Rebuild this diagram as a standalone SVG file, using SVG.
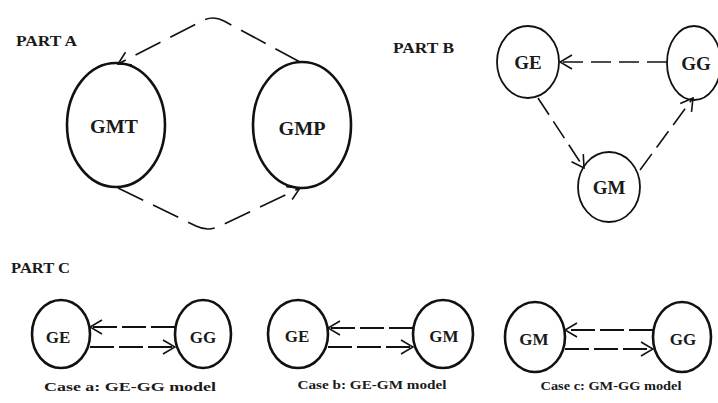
<svg xmlns="http://www.w3.org/2000/svg" width="718" height="403" viewBox="0 0 718 403">
<style>
.bg{fill:#fff}
.nodeA{fill:none;stroke:#111;stroke-width:2.6}
.nodeB{fill:none;stroke:#111;stroke-width:1.8}
.nodeC{fill:none;stroke:#111;stroke-width:2.6}
.lbl{font-family:"Liberation Serif","Times New Roman",serif;font-weight:bold;fill:#1a1a1a;text-anchor:middle}
.title{font-family:"Liberation Serif","Times New Roman",serif;font-weight:bold;fill:#1a1a1a;font-size:14px}
.cap{font-family:"Liberation Serif","Times New Roman",serif;font-weight:bold;fill:#1a1a1a;font-size:12px;text-anchor:middle}
.edgeA{fill:none;stroke:#111;stroke-width:1.6;stroke-dasharray:28 11}
.edgeB{fill:none;stroke:#111;stroke-width:1.6;stroke-dasharray:20 8}
.edgeC{fill:none;stroke:#111;stroke-width:1.8;stroke-dasharray:24 5}
</style>
<defs>
<marker id="arr" viewBox="0 0 14 16" refX="13" refY="8" markerWidth="14" markerHeight="16" markerUnits="userSpaceOnUse" orient="auto">
<path d="M1,1 L13,8 L1,15" fill="none" stroke="#111" stroke-width="1.6"/>
</marker>
</defs>
<rect class="bg" x="0" y="0" width="718" height="403"/>

<text class="title" x="16" y="46" textLength="61" lengthAdjust="spacingAndGlyphs">PART A</text>
<text class="title" x="393" y="53" textLength="61" lengthAdjust="spacingAndGlyphs">PART B</text>
<text class="title" x="11" y="273" textLength="59" lengthAdjust="spacingAndGlyphs">PART C</text>

<g id="connectors">
<path class="edgeA" d="M300,62 L224,21 Q213,15 202,21 L118,64" marker-end="url(#arr)"/>
<path class="edgeA" d="M118,188 L196,226 Q208,232 220,226 L300,188" marker-end="url(#arr)"/>
<path class="edgeB" d="M667,62 L560,62" marker-end="url(#arr)"/>
<path class="edgeB" d="M538,98 L584,168" marker-end="url(#arr)"/>
<path class="edgeB" d="M640,170 L693,98" marker-end="url(#arr)"/>
<path class="edgeC" d="M175,327 L90,327" marker-end="url(#arr)"/>
<path class="edgeC" d="M90,347 L175,347" marker-end="url(#arr)"/>
<path class="edgeC" d="M413,328 L328,328" marker-end="url(#arr)"/>
<path class="edgeC" d="M328,347 L413,347" marker-end="url(#arr)"/>
<path class="edgeC" d="M653,330 L565,330" marker-end="url(#arr)"/>
<path class="edgeC" d="M565,349 L653,349" marker-end="url(#arr)"/>
</g>

<g id="GMT"><ellipse class="nodeA" cx="116" cy="125" rx="49" ry="62"/><text class="lbl" x="114" y="133" font-size="19" textLength="48" lengthAdjust="spacingAndGlyphs">GMT</text></g>
<g id="GMP"><ellipse class="nodeA" cx="302" cy="125" rx="49" ry="63"/><text class="lbl" x="302" y="135" font-size="19" textLength="47" lengthAdjust="spacingAndGlyphs">GMP</text></g>

<g id="B_GE"><ellipse class="nodeB" cx="528" cy="62" rx="31" ry="36"/><text class="lbl" x="528" y="69" font-size="19">GE</text></g>
<g id="B_GG"><ellipse class="nodeB" cx="694" cy="63" rx="27" ry="37"/><text class="lbl" x="696" y="70" font-size="19">GG</text></g>
<g id="B_GM"><ellipse class="nodeB" cx="609" cy="187" rx="31" ry="35"/><text class="lbl" x="609" y="194" font-size="19">GM</text></g>

<g id="Ca_GE"><ellipse class="nodeC" cx="61" cy="334" rx="29" ry="34"/><text class="lbl" x="58" y="343" font-size="17">GE</text></g>
<g id="Ca_GG"><ellipse class="nodeC" cx="203" cy="334" rx="28" ry="34"/><text class="lbl" x="203" y="343" font-size="17">GG</text></g>
<g id="Cb_GE"><ellipse class="nodeC" cx="298" cy="334" rx="30" ry="34"/><text class="lbl" x="297" y="342" font-size="17">GE</text></g>
<g id="Cb_GM"><ellipse class="nodeC" cx="443" cy="334" rx="30" ry="34"/><text class="lbl" x="444" y="342" font-size="17">GM</text></g>
<g id="Cc_GM"><ellipse class="nodeC" cx="535" cy="337" rx="30" ry="35"/><text class="lbl" x="534" y="345" font-size="17">GM</text></g>
<g id="Cc_GG"><ellipse class="nodeC" cx="682" cy="337" rx="29" ry="35"/><text class="lbl" x="683" y="345" font-size="17">GG</text></g>

<text class="cap" x="130" y="391" textLength="172" lengthAdjust="spacingAndGlyphs">Case a: GE-GG model</text>
<text class="cap" x="372" y="389" textLength="149" lengthAdjust="spacingAndGlyphs">Case b: GE-GM model</text>
<text class="cap" x="611" y="390" textLength="141" lengthAdjust="spacingAndGlyphs">Case c: GM-GG model</text>
</svg>
